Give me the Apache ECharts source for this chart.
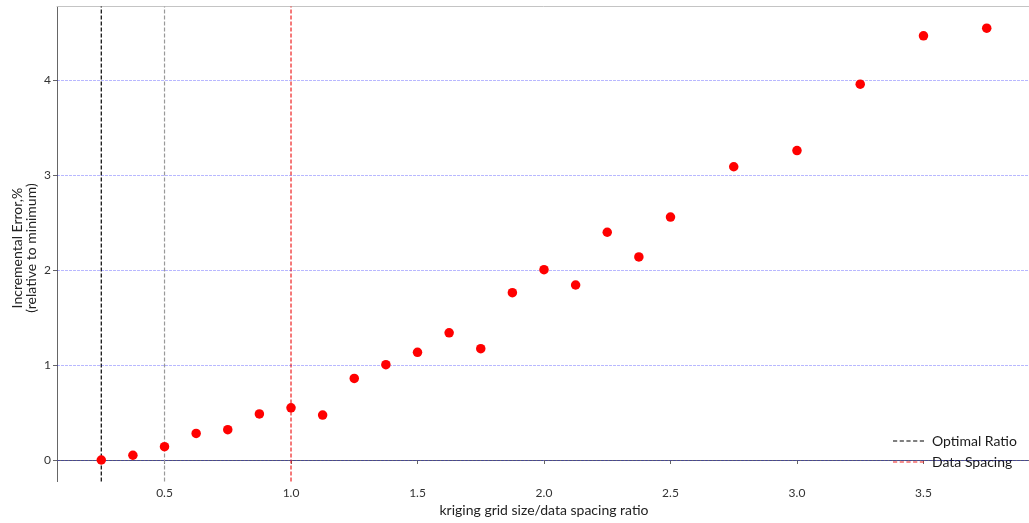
<!DOCTYPE html>
<html><head><meta charset="utf-8">
<script src="https://cdn.jsdelivr.net/npm/echarts@6/dist/echarts.min.js"></script>
<style>html,body{margin:0;padding:0;background:#fff}#c{width:1029px;height:523px}</style>
</head><body><div id="c"></div>
<script>
const ratios = [0.25,0.375,0.5,0.625,0.75,0.875,1.0,1.125,1.25,1.375,1.5,1.625,1.75,1.875,2.0,2.125,2.25,2.375,2.5,2.75,3.0,3.25,3.5,3.75];
const errors = [0,0.05,0.14,0.28,0.32,0.485,0.55,0.474,0.86,1.004,1.135,1.34,1.173,1.763,2.005,1.844,2.40,2.14,2.56,3.09,3.26,3.96,4.47,4.55];
const xTicks = [0.5,1.0,1.5,2.0,2.5,3.0,3.5];
const yTicks = [0,1,2,3,4];
const optimalRatio = 0.25;
const halfRatio = 0.5;
const dataSpacing = 1.0;
const xMin = 0.075, xMax = 3.925, yMin = -0.2275, yMax = 4.7775;

const FONT = 'Lato';
const DASH_ICON = 'path://M0,0h4.2v1.2h-4.2z M6.7,0h4.2v1.2h-4.2z M13.4,0h4.2v1.2h-4.2z M20.1,0h4.2v1.2h-4.2z M26.8,0h4.2v1.2h-4.2z';
const chart = echarts.init(document.getElementById('c'), null, {renderer:'canvas'});
const vline = (x) => [[x, yMin], [x, yMax]];
chart.setOption({
  animation: false,
  backgroundColor: '#fff',
  textStyle: {fontFamily: FONT},
  grid: {left: 57, top: 6.6, width: 974, bottom: 41.4, containLabel: false, outerBoundsMode: 'none'},
  legend: {
    left: 888, top: 429, orient: 'vertical', itemWidth: 31, itemHeight: 1.2, itemGap: 7,
    symbolKeepAspect: false,
    textStyle: {fontFamily: FONT, fontSize: 14, color: '#1a1a1a', padding: [0, 0, 0, 3]},
    data: [{name: 'Optimal Ratio', icon: DASH_ICON}, {name: 'Data Spacing', icon: DASH_ICON}]
  },
  xAxis: [{
    type: 'value', min: xMin, max: xMax,
    name: 'kriging grid size/data spacing ratio', nameLocation: 'middle', nameGap: 22,
    nameMoveOverlap: false,
    nameTextStyle: {fontFamily: FONT, fontSize: 14, color: '#222'},
    axisLine: {show: true, lineStyle: {color: '#666', width: 1}},
    axisTick: {show: true, length: 4, customValues: xTicks, lineStyle: {color: '#666'}},
    axisLabel: {customValues: xTicks, fontFamily: FONT, fontSize: 12, color: '#333', margin: 6,
      formatter: v => v.toFixed(1)},
    splitLine: {show: false}
  }, {
    type: 'value', min: xMin, max: xMax, position: 'top',
    axisLine: {show: true, lineStyle: {color: '#c4c4c4', width: 1}},
    axisTick: {show: false}, axisLabel: {show: false}, splitLine: {show: false}
  }],
  yAxis: {
    type: 'value', min: yMin, max: yMax,
    name: 'Incremental Error,%\n(relative to minimum)', nameLocation: 'middle', nameGap: 19, nameRotate: 90,
    nameMoveOverlap: false,
    nameTextStyle: {fontFamily: FONT, fontSize: 14, color: '#222', lineHeight: 14, padding: [0, 8, 0, 0]},
    axisLine: {show: true, lineStyle: {color: '#666', width: 1}},
    axisTick: {show: true, length: 4, customValues: yTicks, lineStyle: {color: '#666'}},
    axisLabel: {customValues: yTicks, fontFamily: FONT, fontSize: 12, color: '#333', margin: 6},
    splitLine: {show: false}
  },
  series: [
    {
      type: 'line', data: [], silent: true, z: 1,
      markLine: {
        silent: true, symbol: 'none', animation: false,
        label: {show: false},
        lineStyle: {color: 'rgba(0,0,255,0.28)', type: [3, 1], width: 1},
        data: yTicks.map(v => ({yAxis: v}))
      }
    },
    {
      name: 'halfRatio', type: 'line', data: vline(halfRatio), symbol: 'none', silent: true, z: 2,
      lineStyle: {color: '#999', type: [4, 2], width: 1.2}
    },
    {
      name: 'Optimal Ratio', type: 'line', data: vline(optimalRatio), symbol: 'none', silent: true, z: 2,
      lineStyle: {color: '#000', type: [4, 2], width: 1.2}, itemStyle: {color: '#000'}
    },
    {
      name: 'Data Spacing', type: 'line', data: vline(dataSpacing), symbol: 'none', silent: true, z: 2,
      lineStyle: {color: '#ee2020', type: [4, 2], width: 1.2}, itemStyle: {color: '#ee2020'}
    },
    {
      name: 'points', type: 'scatter', z: 5,
      data: ratios.map((r, i) => [r, errors[i]]),
      symbol: 'circle', symbolSize: 9.5,
      itemStyle: {color: '#ff0000', opacity: 1}
    }
  ]
});
</script></body></html>
